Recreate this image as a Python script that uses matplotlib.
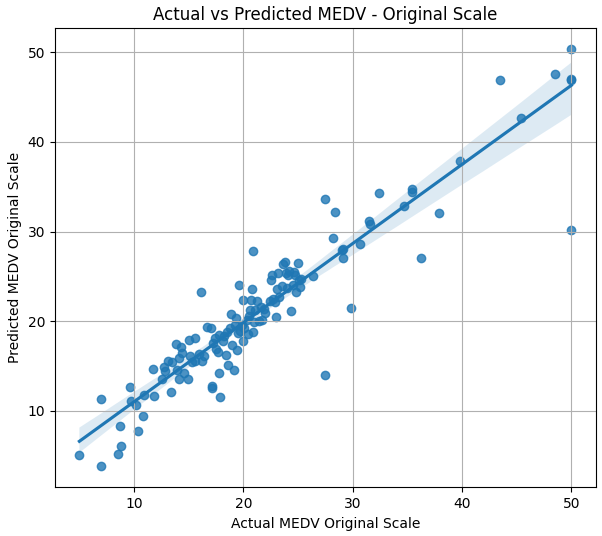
import matplotlib
matplotlib.use("Agg")
import matplotlib.pyplot as plt
import seaborn as sns
import numpy as np

actual = [5, 7, 7, 8.5, 8.7, 8.8, 9.6, 9.7, 10.2, 10.4, 10.8, 10.9, 11.7, 11.8, 12.6, 12.7, 12.8, 13.1,
          13.4, 13.5, 13.8, 13.9, 14.1, 14.1, 14.3, 14.4, 14.6, 14.9, 15.0, 15.1, 15.3, 15.6, 15.6, 15.9,
          16.1, 16.2, 16.4, 16.7, 17.0, 17.1, 17.1, 17.2, 17.4, 17.5, 17.7, 17.8, 17.9, 17.8, 18.1, 18.2,
          18.4, 18.5, 18.6, 18.8, 18.9, 19.0, 19.1, 19.2, 19.3, 19.4, 19.5, 19.6, 19.7, 19.9, 20.0, 20.0,
          20.1, 20.3, 20.4, 20.5, 20.6, 20.7, 20.8, 20.9, 20.9, 21.0, 21.1, 21.2, 21.4, 21.6, 21.7, 21.9,
          22.0, 22.4, 22.5, 22.6, 22.7, 22.9, 23.0, 23.1, 23.2, 23.3, 23.5, 23.6, 23.8, 23.9, 24.0, 24.1,
          24.2, 24.4, 24.5, 24.6, 24.7, 24.8, 25.0, 25.1, 25.3, 25.2, 26.4, 27.5, 27.5, 28.2, 28.4, 29.0,
          29.1, 29.1, 29.8, 30.7, 31.5, 31.6, 32.4, 34.7, 35.4, 35.4, 36.2, 37.9, 39.8, 43.5, 45.4, 48.5,
          50, 50, 50, 50]
predicted = [5.1, 3.8, 11.3, 5.2, 8.3, 6.1, 12.7, 11.1, 10.6, 7.7, 9.4, 11.8, 14.7, 11.6, 13.5, 14.9, 14.4, 15.6,
             12.1, 15.4, 17.4, 14.6, 13.6, 15.9, 17.1, 16.5, 14.2, 13.5, 17.9, 16.1, 15.4, 18.1, 15.5, 16.3,
             23.2, 15.6, 16.1, 19.4, 19.2, 12.8, 12.5, 17.6, 18.1, 16.9, 16.6, 14.2, 11.5, 18.5, 17.8, 18.3,
             16.2, 18.8, 15.1, 19.2, 20.8, 17.3, 14.6, 19.6, 20.3, 16.8, 18.7, 24.0, 18.9, 19.6, 22.4, 17.8,
             19.2, 20.1, 18.6, 20.6, 21.3, 22.4, 23.6, 27.8, 18.8, 19.9, 21.3, 22.2, 20.0, 21.6, 20.1, 21.4,
             20.9, 22.3, 24.6, 25.1, 22.5, 22.1, 20.5, 23.6, 25.4, 22.7, 23.9, 26.4, 26.6, 25.4, 23.7, 25.1,
             25.6, 21.1, 24.0, 25.5, 25.1, 23.2, 26.5, 24.6, 24.7, 23.8, 25.0, 33.6, 14.0, 29.3, 32.2, 27.9,
             28.1, 27.1, 21.5, 28.6, 31.2, 30.8, 34.3, 32.9, 34.7, 34.4, 27.1, 32.1, 37.9, 46.9, 42.7, 47.6,
             50.4, 47.0, 46.9, 30.2]

fig, ax = plt.subplots(figsize=(6.02, 5.36), dpi=100)
sns.regplot(x=np.array(actual), y=np.array(predicted), ax=ax, scatter_kws={"alpha": 0.8})
ax.set_title("Actual vs Predicted MEDV - Original Scale", fontsize=12)
ax.set_xlabel("Actual MEDV Original Scale")
ax.set_ylabel("Predicted MEDV Original Scale")
ax.grid(True)
fig.subplots_adjust(left=0.091, right=0.99, top=0.948, bottom=0.091)
plt.savefig("out.png", dpi=100)
